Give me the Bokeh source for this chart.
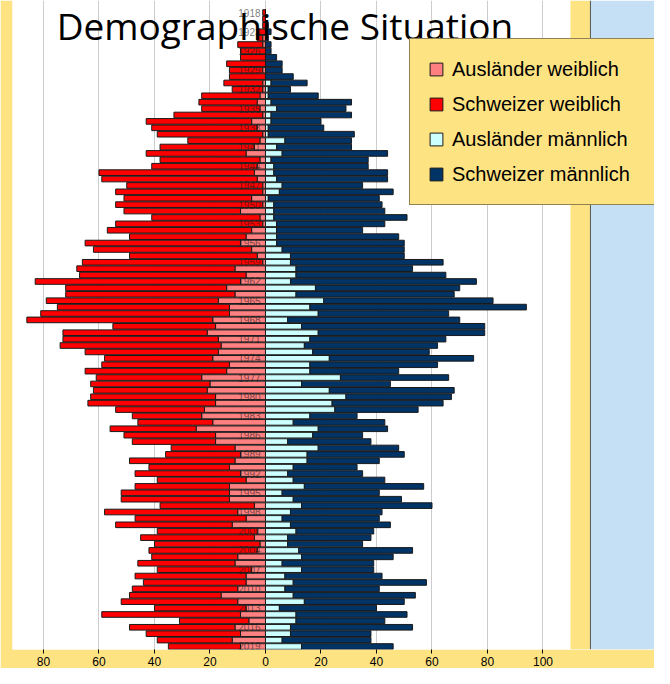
from bokeh.plotting import figure
from bokeh.models import ColumnDataSource, Range1d, FixedTicker, Legend, LegendItem, BoxAnnotation, Span, Label
from bokeh.embed import file_html
from bokeh.resources import INLINE
from bokeh.core.properties import value

# ---------------- data ----------------
years = [1918, 1920, 1921, 1923, 1924, 1925, 1926, 1927, 1928, 1929,
         1930, 1931, 1932, 1933, 1934, 1935, 1936, 1937, 1938, 1939,
         1940, 1941, 1942, 1943, 1944, 1945, 1946, 1947, 1948, 1949,
         1950, 1951, 1952, 1953, 1954, 1955, 1956, 1957, 1958, 1959,
         1960, 1961, 1962, 1963, 1964, 1965, 1966, 1967, 1968, 1969,
         1970, 1971, 1972, 1973, 1974, 1975, 1976, 1977, 1978, 1979,
         1980, 1981, 1982, 1983, 1984, 1985, 1986, 1987, 1988, 1989,
         1990, 1991, 1992, 1993, 1994, 1995, 1996, 1997, 1998, 1999,
         2000, 2001, 2002, 2003, 2004, 2005, 2006, 2007, 2008, 2009,
         2010, 2011, 2012, 2013, 2014, 2015, 2016, 2017, 2018, 2019]

auslaender_weiblich = [0, 0, 0, 0, 1, 1, 0, 0, 0, 1,
                       0, 1, 1, 2, 3, 2, 1, 5, 3, 1,
                       2, 4, 7, 2, 3, 4, 3, 1, 1, 5,
                       1, 9, 2, 1, 5, 7, 9, 5, 3, 1,
                       11, 7, 9, 14, 11, 17, 13, 13, 19, 18,
                       21, 17, 16, 17, 19, 13, 14, 23, 20, 21,
                       18, 18, 22, 23, 19, 25, 18, 18, 11, 9,
                       11, 13, 9, 7, 13, 13, 13, 4, 10, 7,
                       12, 3, 4, 2, 3, 10, 11, 5, 7, 7,
                       10, 16, 10, 7, 9, 6, 11, 9, 12, 9]

schweizer_weiblich = [1, 1, 1, 3, 2, 9, 9, 9, 14, 12,
                      13, 14, 11, 21, 21, 21, 32, 38, 38, 38,
                      26, 34, 36, 36, 38, 56, 56, 49, 53, 46,
                      53, 42, 39, 53, 52, 42, 56, 57, 46, 65,
                      57, 60, 74, 58, 61, 62, 62, 68, 67, 37,
                      52, 56, 58, 48, 39, 46, 51, 38, 43, 41,
                      45, 46, 32, 25, 27, 31, 33, 30, 23, 27,
                      38, 29, 38, 32, 34, 39, 39, 34, 48, 40,
                      42, 36, 41, 38, 39, 31, 35, 34, 40, 37,
                      38, 33, 42, 33, 50, 25, 38, 34, 27, 26]

auslaender_maennlich = [0, 0, 0, 0, 0, 0, 0, 0, 0, 0,
                        0, 2, 1, 1, 2, 4, 2, 2, 1, 1,
                        7, 4, 6, 2, 3, 3, 4, 6, 5, 1,
                        3, 3, 3, 4, 4, 4, 4, 6, 9, 9,
                        11, 11, 9, 18, 11, 21, 16, 19, 8, 13,
                        19, 16, 14, 17, 23, 16, 16, 27, 13, 23,
                        29, 24, 25, 16, 10, 19, 17, 8, 19, 15,
                        15, 10, 8, 10, 14, 6, 10, 13, 9, 6,
                        9, 11, 8, 8, 12, 13, 6, 13, 7, 10,
                        7, 10, 14, 5, 11, 11, 9, 9, 6, 13]

schweizer_maennlich = [0, 0, 1, 2, 1, 2, 2, 4, 6, 6,
                       10, 13, 8, 18, 29, 25, 29, 18, 20, 31,
                       24, 27, 38, 35, 34, 41, 40, 29, 41, 40,
                       39, 40, 48, 39, 31, 44, 46, 44, 41, 55,
                       42, 54, 67, 52, 57, 61, 78, 47, 62, 66,
                       60, 49, 48, 42, 52, 46, 32, 39, 32, 45,
                       38, 40, 30, 17, 33, 25, 18, 30, 29, 35,
                       26, 23, 27, 33, 43, 35, 39, 47, 33, 35,
                       36, 28, 30, 27, 41, 33, 33, 26, 35, 48,
                       34, 44, 36, 35, 40, 32, 44, 29, 32, 33]

x_ticks = [-80, -60, -40, -20, 0, 20, 40, 60, 80, 100]
x_tick_labels = ["80", "60", "40", "20", "0", "20", "40", "60", "80", "100"]
legend_labels = ["Ausländer weiblich", "Schweizer weiblich",
                 "Ausländer männlich", "Schweizer männlich"]
title_text = "Demographische Situation"

# ---------------- styles ----------------
YELLOW = "#fee383"
BLUE_BG = "#c5e0f4"
C_AW = "#ff8080"
C_SW = "#ff0000"
C_AM = "#ccffff"
C_SM = "#003366"
OUTLINE = "#1a1a1a"

n = len(years)
assert all(len(a) == n for a in (auslaender_weiblich, schweizer_weiblich,
                                  auslaender_maennlich, schweizer_maennlich))

pos = list(range(n))
src = ColumnDataSource(dict(
    y=pos,
    aw_l=[-a for a in auslaender_weiblich],
    aw_r=[0] * n,
    sw_l=[-(a + s) for a, s in zip(auslaender_weiblich, schweizer_weiblich)],
    sw_r=[-a for a in auslaender_weiblich],
    am_l=[0] * n,
    am_r=list(auslaender_maennlich),
    sm_l=list(auslaender_maennlich),
    sm_r=[a + s for a, s in zip(auslaender_maennlich, schweizer_maennlich)],
))

p = figure(width=654, height=668,
           x_range=Range1d(-91.17, 140.18), y_range=Range1d(99.47, -1.88),
           output_backend="svg", toolbar_location=None, y_axis_location=None,
           min_border_left=12, min_border_right=0, min_border_top=0, min_border_bottom=0,
           border_fill_color=YELLOW, background_fill_color="white",
           outline_line_color=None)

# right-hand decorative strips (yellow frame edge and blue page)
p.add_layout(BoxAnnotation(left=109.9, right=117.1, fill_color=YELLOW, fill_alpha=1,
                           line_color=None, level="underlay"))
p.add_layout(BoxAnnotation(left=117.1, fill_color=BLUE_BG, fill_alpha=1,
                           line_color=None, level="underlay"))
p.add_layout(Span(location=117.1, dimension="height", line_color="#555555", line_width=1))

H = 0.88
r_aw = p.hbar(y="y", left="aw_l", right="aw_r", height=H, source=src,
              fill_color=C_AW, line_color=OUTLINE, line_width=1)
r_sw = p.hbar(y="y", left="sw_l", right="sw_r", height=H, source=src,
              fill_color=C_SW, line_color=OUTLINE, line_width=1)
r_am = p.hbar(y="y", left="am_l", right="am_r", height=H, source=src,
              fill_color=C_AM, line_color=OUTLINE, line_width=1)
r_sm = p.hbar(y="y", left="sm_l", right="sm_r", height=H, source=src,
              fill_color=C_SM, line_color=OUTLINE, line_width=1)

# year labels every third category
lab_pos = pos[::3]
lab_txt = [str(y) for y in years[::3]]
p.text(x=-1.8, y=lab_pos, text=lab_txt, text_font=value("Liberation Sans"),
       text_font_size=value("10px"), text_align="right", text_baseline="middle",
       text_color="#1a1a1a", text_alpha=0.6)

# grid and axis
p.xgrid.ticker = FixedTicker(ticks=x_ticks)
p.xgrid.grid_line_color = "#cccccc"
p.ygrid.visible = False
p.xaxis.ticker = FixedTicker(ticks=x_ticks)
p.xaxis.major_label_overrides = {t: l for t, l in zip(x_ticks, x_tick_labels)}
p.xaxis.axis_line_color = None
p.xaxis.major_tick_line_color = "black"
p.xaxis.major_tick_in = 0
p.xaxis.major_tick_out = 4
p.xaxis.minor_tick_line_color = None
p.xaxis.major_label_standoff = 3
p.xaxis.major_label_text_font = "Liberation Sans"
p.xaxis.major_label_text_font_size = "12px"
p.xaxis.major_label_text_color = "black"

legend = Legend(items=[LegendItem(label=legend_labels[0], renderers=[r_aw]),
                       LegendItem(label=legend_labels[1], renderers=[r_sw]),
                       LegendItem(label=legend_labels[2], renderers=[r_am]),
                       LegendItem(label=legend_labels[3], renderers=[r_sm])],
                location=(397, 444), orientation="vertical",
                background_fill_color=YELLOW, background_fill_alpha=1,
                border_line_color="#222222", border_line_width=1.5,
                label_text_font="Liberation Sans", label_text_font_size="20px",
                label_text_color="black",
                glyph_width=16, glyph_height=16, label_height=24, label_width=240,
                label_standoff=8, spacing=11, padding=18, margin=0)
p.add_layout(legend)

# title (added after the legend so it is drawn on top)
p.add_layout(Label(x=7, y=624, x_units="data", y_units="screen", text=title_text,
                   text_font="Open Sans", text_font_size="37px", text_color="black",
                   text_align="center", text_baseline="alphabetic"))

open("out.html", "w").write(file_html(p, INLINE))
